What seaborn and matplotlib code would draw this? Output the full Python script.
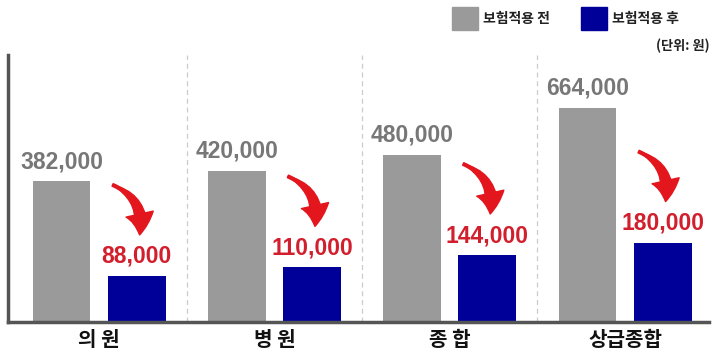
import numpy as np
import pandas as pd
import matplotlib
matplotlib.use("Agg")
import matplotlib.pyplot as plt
import matplotlib.transforms as mtransforms
from matplotlib.patches import Rectangle
import seaborn as sns

categories = ['의 원', '병 원', '종 합', '상급종합']
before = [382000, 420000, 480000, 664000]
after = [88000, 110000, 144000, 180000]
series = ['보험적용 전', '보험적용 후']
unit_text = '(단위: 원)'

colors = ['#9a9a9a', '#000099']
red = '#d21f2d'
arrow_red = '#e3161e'

df = pd.DataFrame({
    '구분': categories * 2,
    '단계': [series[0]] * len(categories) + [series[1]] * len(categories),
    '비용': before + after,
})

sns.set_theme(style='white')
plt.rcParams['font.family'] = ['Noto Sans CJK KR', 'DejaVu Sans']

fig = plt.figure(figsize=(7.2, 3.61), dpi=100)
ax = fig.add_axes([0.011, 0.108, 0.974, 0.74])

sns.barplot(data=df, x='구분', y='비용', hue='단계', palette=colors,
            width=0.857, gap=0.23, saturation=1, linewidth=0,
            legend=False, ax=ax)

# compressed value axis, like the original graphic
p = 0.76
fwd = lambda v: np.sign(v) * np.abs(v) ** p
inv = lambda v: np.sign(v) * np.abs(v) ** (1 / p)
ax.set_yscale('function', functions=(fwd, inv))
ax.set_ylim(0, inv(fwd(max(before)) * 267 / 214))
ax.set_xlim(-0.52, 3.48)

ax.set_xlabel('')
ax.set_ylabel('')
ax.set_yticks([])
ax.tick_params(axis='x', length=0, pad=5)
ax.set_xticks(range(len(categories)))
ax.set_xticklabels(categories, fontsize=14.5, fontweight='bold', color='#111111')

for s in ['top', 'right']:
    ax.spines[s].set_visible(False)
for s in ['left', 'bottom']:
    ax.spines[s].set_color('#555555')
    ax.spines[s].set_linewidth(2.5)

for b in [0.5, 1.5, 2.5]:
    ax.axvline(b, color='#cccccc', lw=0.9, ls=(0, (4, 3)), zorder=0)

off = 0.214
num_font = dict(family=['Liberation Sans', 'DejaVu Sans'], fontsize=16.5, fontweight='bold')
for i, (vb, va) in enumerate(zip(before, after)):
    ax.annotate(f'{vb:,}', (i - off, vb), xytext=(0, 8), textcoords='offset pixels',
                ha='center', va='bottom', color='#777777', **num_font)
    ax.annotate(f'{va:,}', (i + off, va), xytext=(0, 8), textcoords='offset pixels',
                ha='center', va='bottom', color=red, **num_font)

    # curved red arrow: tapered tail + head
    tip_tr = mtransforms.offset_copy(ax.transData, fig=fig, x=3, y=41, units='dots')
    start_tr = mtransforms.offset_copy(ax.transData, fig=fig, x=-24, y=91, units='dots')
    ax.annotate('', xy=(i + off, va), xycoords=tip_tr,
                xytext=(i + off, va), textcoords=start_tr,
                arrowprops=dict(arrowstyle='simple,head_length=0.75,head_width=1.0,tail_width=0.1',
                                connectionstyle='arc3,rad=-0.4', color=arrow_red,
                                shrinkA=0, shrinkB=0, mutation_scale=20))
    ax.annotate('', xy=(i + off, va), xycoords=start_tr,
                xytext=(i + off, va), textcoords=tip_tr,
                arrowprops=dict(arrowstyle='wedge,tail_width=0.45,shrink_factor=0.6',
                                connectionstyle='arc3,rad=0.4', color=arrow_red,
                                shrinkA=9, shrinkB=0, mutation_scale=20))

# legend at the top
for x0, lab, c in [(452, series[0], colors[0]), (581, series[1], colors[1])]:
    fig.patches.append(Rectangle((x0 / 720, 1 - 30 / 361), 26 / 720, 23 / 361,
                                 transform=fig.transFigure, color=c))
    fig.text((x0 + 31) / 720, 1 - 19 / 361, lab, fontsize=10, fontweight='bold',
             va='center', color='#222222')
fig.text(710 / 720, 1 - 46 / 361, unit_text, fontsize=9.5, fontweight='bold',
         ha='right', va='center', color='#222222')

fig.savefig('out.png', dpi=100)
